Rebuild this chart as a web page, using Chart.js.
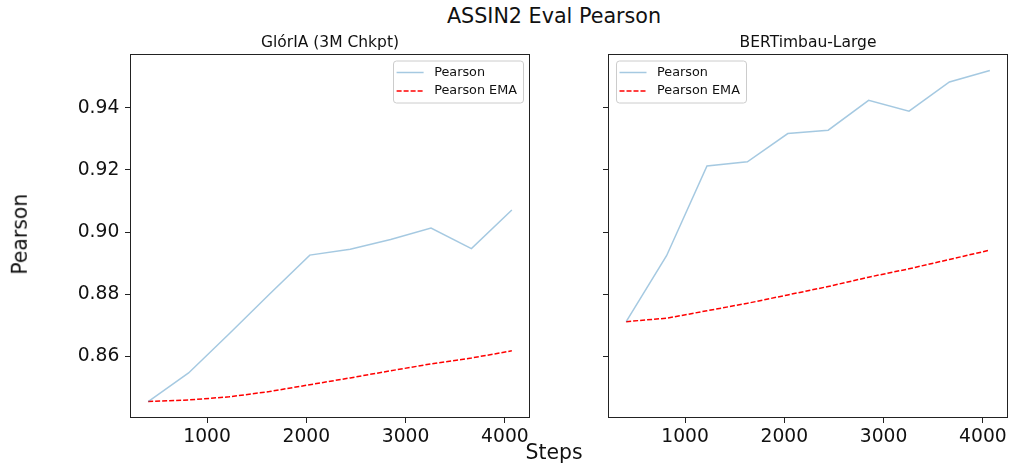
<!DOCTYPE html>
<html>
<head>
<meta charset="utf-8">
<title>ASSIN2 Eval Pearson</title>
<script src="https://cdn.jsdelivr.net/npm/chart.js@4.4.1/dist/chart.umd.min.js"></script>
<style>
  html, body { margin: 0; padding: 0; background: #fff; }
  #figure { position: relative; width: 1010px; height: 468px; overflow: hidden; font-family: 'DejaVu Sans', sans-serif; color: #111; }
  #figure canvas { position: absolute; top: 0; }
  #chart-gloria { left: 0; }
  #chart-bertimbau { left: 560px; }
  .fig-text { position: absolute; line-height: 1; white-space: nowrap; text-align: center; }
  #suptitle { left: 354px; top: 6px; width: 400px; font-size: 20.7px; }
  #xlabel { left: 454px; top: 442px; width: 200px; font-size: 20.4px; }
  #ylabel { left: -79.8px; top: 223.5px; width: 200px; font-size: 20.4px; transform: rotate(-90deg); }
</style>
</head>
<body>
<div id="figure">
  <div id="suptitle" class="fig-text">ASSIN2 Eval Pearson</div>
  <canvas id="chart-gloria" width="545" height="468"></canvas>
  <canvas id="chart-bertimbau" width="450" height="468"></canvas>
  <div id="xlabel" class="fig-text">Steps</div>
  <div id="ylabel" class="fig-text">Pearson</div>
</div>
<script>
// eval steps shared by both runs
var steps = [407, 814, 1221, 1628, 2035, 2442, 2849, 3256, 3663, 4070];

var gloriaPearson = [0.8455, 0.8547, 0.8672, 0.8800, 0.8926, 0.8945, 0.8976, 0.9013, 0.8947, 0.9071];
var gloriaEma = [0.8455, 0.8460, 0.8470, 0.8487, 0.8509, 0.8531, 0.8554, 0.8576, 0.8595, 0.8618];

var bertimbauPearson = [0.8712, 0.8924, 0.9213, 0.9226, 0.9317, 0.9328, 0.9424, 0.9389, 0.9483, 0.9520];
var bertimbauEma = [0.8712, 0.8723, 0.8747, 0.8771, 0.8798, 0.8825, 0.8855, 0.8882, 0.8912, 0.8942];

var xTicks = [1000, 2000, 3000, 4000];
var yTicks = [0.86, 0.88, 0.90, 0.92, 0.94];

(function() {

  'use strict';

  Chart.defaults.font.family = "'DejaVu Sans', sans-serif";
  Chart.defaults.color = '#111';

  var spineColor = '#222';

  // box around the plot area, all four sides
  var spinesPlugin = {
    id: 'spines',
    afterDraw: function(chart) {
      var a = chart.chartArea;
      var ctx = chart.ctx;
      var l = Math.round(a.left), t = Math.round(a.top);
      var r = Math.round(a.right), b = Math.round(a.bottom);
      ctx.save();
      ctx.strokeStyle = spineColor;
      ctx.lineWidth = 1;
      ctx.strokeRect(l + 0.5, t + 0.5, r - l - 1, b - t - 1);
      ctx.restore();
    }
  };

  // legend drawn inside the plot area with a rounded frame
  var frameLegendPlugin = {
    id: 'frameLegend',
    afterDraw: function(chart, args, opts) {
      var ctx = chart.ctx;
      var a = chart.chartArea;
      var datasets = chart.data.datasets;

      ctx.save();
      ctx.font = "12.8px 'DejaVu Sans'";
      var textW = 0;
      datasets.forEach(function(d) {
        textW = Math.max(textW, ctx.measureText(d.label).width);
      });
      var w = 41.6 + textW + 5.5;
      var h = 42;
      var left = opts.align === 'right' ? Math.round(a.right) - 7.5 - w : Math.round(a.left) + 7.5;
      var top = Math.round(a.top) + 6.5;

      ctx.beginPath();
      ctx.roundRect(Math.round(left) + 0.5, top + 0.5, Math.round(w), h, 3);
      ctx.fillStyle = 'rgba(255,255,255,0.8)';
      ctx.fill();
      ctx.strokeStyle = '#cccccc';
      ctx.lineWidth = 1;
      ctx.stroke();

      datasets.forEach(function(d, i) {
        var y = top + 12 + i * 18.4;
        ctx.beginPath();
        ctx.setLineDash(d.borderDash || []);
        ctx.strokeStyle = d.borderColor;
        ctx.lineWidth = d.borderWidth;
        ctx.moveTo(left + 4, y);
        ctx.lineTo(left + 31, y);
        ctx.stroke();
        ctx.setLineDash([]);
        ctx.fillStyle = '#111';
        ctx.textBaseline = 'middle';
        ctx.textAlign = 'left';
        ctx.fillText(d.label, left + 41.6, y);
      });
      ctx.restore();
    }
  };

  function toPoints(values) {
    return steps.map(function(s, i) {
      return { x: s, y: values[i] };
    });
  }

  function makeDatasets(pearson, ema) {
    return [{
      label: 'Pearson',
      data: toPoints(pearson),
      borderColor: 'rgba(31,119,180,0.4)',
      borderWidth: 1.5,
      pointRadius: 0,
      tension: 0
    }, {
      label: 'Pearson EMA',
      data: toPoints(ema),
      borderColor: '#ff0000',
      borderWidth: 1.5,
      borderDash: [5, 2],
      pointRadius: 0,
      tension: 0
    }];
  }

  function createChart(id, title, pearson, ema, opts) {
    var ctx = document.getElementById(id).getContext('2d');

    return new Chart(ctx, {
      type: 'line',
      data: { datasets: makeDatasets(pearson, ema) },
      plugins: [spinesPlugin, frameLegendPlugin],
      options: {
        responsive: false,
        animation: false,
        events: [],
        layout: {
          padding: { top: 34, right: opts.padRight, bottom: 20, left: 0 }
        },
        scales: {
          x: {
            type: 'linear',
            min: 224,
            max: 4253,
            afterBuildTicks: function(scale) {
              scale.ticks = xTicks.map(function(v) { return { value: v }; });
            },
            afterFit: function(scale) { scale.height = 30; },
            grid: { drawOnChartArea: false, drawTicks: true, tickLength: 5, color: spineColor },
            border: { display: false },
            ticks: {
              font: { size: 18.7 },
              color: '#111',
              padding: 3,
              maxRotation: 0,
              callback: function(v) { return String(v); }
            }
          },
          y: {
            type: 'linear',
            min: 0.8402,
            max: 0.9573,
            afterBuildTicks: function(scale) {
              scale.ticks = yTicks.map(function(v) { return { value: v }; });
            },
            afterFit: function(scale) { scale.width = opts.yWidth; },
            grid: { drawOnChartArea: false, drawTicks: true, tickLength: 5, color: spineColor },
            border: { display: false },
            ticks: {
              display: opts.showYLabels,
              font: { size: 18.7 },
              color: '#111',
              padding: 5.7,
              callback: function(v) { return v.toFixed(2); }
            }
          }
        },
        plugins: {
          legend: { display: false },
          tooltip: { enabled: false },
          title: {
            display: true,
            text: title,
            fullSize: false,
            color: '#111',
            font: { size: 15.5, weight: 'normal' },
            padding: { top: 0, bottom: 1.4 }
          },
          frameLegend: { align: opts.legendAlign }
        }
      }
    });
  }

  createChart('chart-gloria', 'GlórIA (3M Chkpt)', gloriaPearson, gloriaEma, {
    padRight: 15, yWidth: 130, showYLabels: true, legendAlign: 'right'
  });

  createChart('chart-bertimbau', 'BERTimbau-Large', bertimbauPearson, bertimbauEma, {
    padRight: 2, yWidth: 48, showYLabels: false, legendAlign: 'left'
  });

})();
</script>
</body>
</html>
